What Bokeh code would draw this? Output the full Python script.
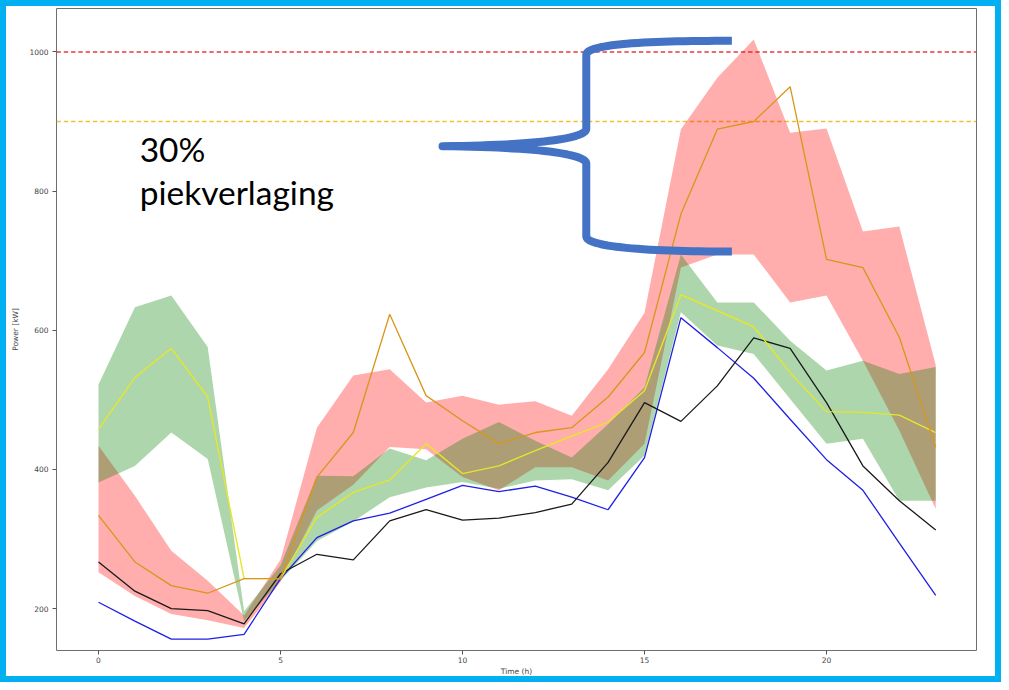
import numpy as np
from bokeh.plotting import figure
from bokeh.models import Range1d, FixedTicker
from bokeh.core.properties import value
from bokeh.embed import file_html
from bokeh.resources import INLINE

# ---- data -------------------------------------------------------------
hours = list(range(24))
blue = [209, 182, 156, 156, 163, 243, 302, 326, 337, 357, 377, 368, 376, 360, 342, 417, 618, 575, 531, 472, 414, 370, 294, 219]
black = [267, 225, 200, 197, 178, 250, 278, 270, 326, 342, 327, 330, 338, 350, 410, 496, 469, 520, 589, 574, 496, 405, 355, 313]
yellow = [458, 532, 574, 504, 243, 243, 331, 367, 385, 437, 394, 405, 427, 448, 468, 513, 651, 628, 605, 539, 483, 482, 478, 453]
orange = [334, 267, 233, 222, 243, 243, 389, 453, 623, 506, 470, 437, 453, 460, 504, 568, 767, 889, 900, 950, 702, 690, 590, 432]
red_low = [252, 218, 192, 183, 172, 238, 341, 378, 432, 429, 389, 370, 403, 403, 384, 437, 690, 709, 709, 640, 650, 556, 456, 343]
red_high = [434, 362, 283, 240, 190, 270, 460, 535, 544, 496, 506, 493, 498, 477, 544, 625, 889, 963, 1018, 884, 890, 742, 749, 550]
green_low = [381, 405, 453, 415, 182, 240, 297, 325, 360, 374, 382, 372, 384, 386, 370, 420, 626, 578, 566, 501, 437, 444, 355, 355]
green_high = [522, 633, 650, 576, 196, 262, 391, 390, 430, 413, 444, 468, 441, 417, 465, 518, 709, 640, 640, 585, 542, 556, 537, 547]
limit_red = 1000
limit_yellow = 900
x_ticks = [0, 5, 10, 15, 20]
y_ticks = [200, 400, 600, 800, 1000]
note_lines = ["30%", "piekverlaging"]

# brace annotation (data units)
brace_spine_x = 13.4
brace_arm_x = 17.4
brace_tip_x = 9.45
brace_top = 1016
brace_bottom = 713
brace_mid = 864.5

X_MIN, X_MAX = -1.154, 24.12
Y_MIN, Y_MAX = 139.7, 1062.4

# ---- figure -----------------------------------------------------------
# host is 989x670 + 6px border (1001x682 outside); bokeh sizes the canvas to the
# outer box, so the right/bottom 12px of the canvas are hidden -> larger min borders
p = figure(width=989, height=670, output_backend="svg", toolbar_location=None,
           x_range=Range1d(X_MIN, X_MAX), y_range=Range1d(Y_MIN, Y_MAX),
           min_border_left=50, min_border_right=31, min_border_top=2, min_border_bottom=38,
           background_fill_color="white", border_fill_color="white")
p.styles = {"border": "6px solid #00b0f0", "box-sizing": "content-box"}
p.grid.visible = False
p.outline_line_color = "#6e6e6e"
p.outline_line_width = 1

for ax in (p.xaxis[0], p.yaxis[0]):
    ax.axis_line_color = None
    ax.major_tick_line_color = "#555555"
    ax.major_tick_in = 0
    ax.major_tick_out = 4
    ax.minor_tick_line_color = None
    ax.major_label_text_font = "DejaVu Sans"
    ax.major_label_text_font_size = "7.5px"
    ax.major_label_text_color = "#444444"
    ax.axis_label_text_font = "DejaVu Sans"
    ax.axis_label_text_font_size = "7.5px"
    ax.axis_label_text_font_style = "normal"
    ax.axis_label_text_color = "#444444"

p.xaxis.ticker = FixedTicker(ticks=x_ticks)
p.yaxis.ticker = FixedTicker(ticks=y_ticks)
p.xaxis.axis_label = "Time (h)"
p.yaxis.axis_label = "Power [kW]"
p.xaxis.major_label_standoff = 2
p.xaxis.axis_label_standoff = 1
p.yaxis.major_label_standoff = 4
p.yaxis.axis_label_standoff = 6

# limits: dashed horizontal lines built from short solid segments
dash_on, dash_period = 0.12, 0.2
dash_x0 = np.arange(X_MIN, X_MAX, dash_period)
dash_x1 = np.minimum(dash_x0 + dash_on, X_MAX)
for level, col in ((limit_red, "#e23c40"), (limit_yellow, "#f2c030")):
    p.segment(x0=dash_x0, y0=np.full(len(dash_x0), level), x1=dash_x1,
              y1=np.full(len(dash_x0), level), line_color=col, line_width=1.5)

# bands
p.varea(x=hours, y1=red_low, y2=red_high, fill_color="red", fill_alpha=0.32)
p.varea(x=hours, y1=green_low, y2=green_high, fill_color="green", fill_alpha=0.32)

# lines
p.line(hours, blue, line_color="#1f1fe6", line_width=1.3)
p.line(hours, black, line_color="#1a1a1a", line_width=1.3)
p.line(hours, yellow, line_color="#e6e62a", line_width=1.4)
p.line(hours, orange, line_color="#d9961c", line_width=1.3)

# brace
def bez(p0, p1, p2, p3, n=30):
    t = np.linspace(0, 1, n)[:, None]
    pts = ((1 - t) ** 3) * np.array(p0) + 3 * ((1 - t) ** 2) * t * np.array(p1) \
        + 3 * (1 - t) * t ** 2 * np.array(p2) + t ** 3 * np.array(p3)
    return pts

sx, ax_, tx = brace_spine_x, brace_arm_x, brace_tip_x
top_curve = bez((ax_, brace_top), (15.2, brace_top), (sx, brace_top - 4), (sx, brace_top - 20))
mid_up = bez((sx, brace_mid + 25), (sx, brace_mid + 12), (12.2, brace_mid + 1.5), (tx, brace_mid))
mid_down = bez((tx, brace_mid), (12.2, brace_mid - 1.5), (sx, brace_mid - 12), (sx, brace_mid - 25))
bot_curve = bez((sx, brace_bottom + 22), (sx, brace_bottom + 6), (15.2, brace_bottom), (ax_, brace_bottom))
path = np.vstack([top_curve, mid_up, mid_down, bot_curve])
p.line(path[:, 0], path[:, 1], line_color="#4472c4", line_width=8,
       line_join="round", line_cap="butt")

# note text
p.text(x=[1.13], y=[861], text=[note_lines[0]], text_font=value("Lato"),
       text_font_size="33.5px", text_color="black", text_baseline="alphabetic")
p.text(x=[1.13], y=[799], text=[note_lines[1]], text_font=value("Lato"),
       text_font_size="33.5px", text_color="black", text_baseline="alphabetic")

open("out.html", "w").write(file_html(p, INLINE))
